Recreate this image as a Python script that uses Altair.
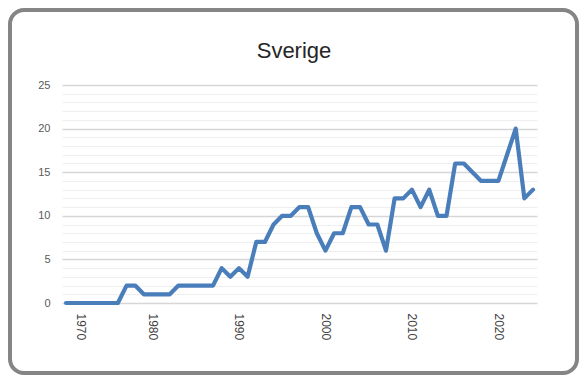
import altair as alt
import pandas as pd

years = list(range(1970, 2025))
values = [0, 0, 0, 0, 0, 0, 0, 2, 2, 1, 1, 1, 1, 2, 2, 2, 2, 2, 4, 3, 4, 3,
          7, 7, 9, 10, 10, 11, 11, 8, 6, 8, 8, 11, 11, 9, 9, 6, 12, 12, 13, 11,
          13, 10, 10, 16, 16, 15, 14, 14, 14, 17, 20, 12, 13]
x_tick_years = [1970, 1980, 1990, 2000, 2010, 2020]
y_grid_values = list(range(0, 26))
title_text = "Sverige"

df = pd.DataFrame({"year": years, "value": values})

W, H = 475, 218
FONT = "Liberation Sans"

major = "datum.value % 5 == 0"

line = alt.Chart(df).mark_line(
    color="#4A7EBB", strokeWidth=4.2, strokeJoin="round", strokeCap="round"
).encode(
    x=alt.X(
        "year:Q",
        scale=alt.Scale(domain=[1970, 2024], padding=4, nice=False, zero=False),
        axis=alt.Axis(
            values=x_tick_years, format="d", labelAngle=90, grid=False,
            domain=False, ticks=False, labelPadding=10, labelFont=FONT,
            labelFontSize=12, labelColor="#404040", labelOverlap=False,
            labelOffset={"condition": {"test": "datum.value == 1970", "value": 14}, "value": 0},
            title=None,
        ),
    ),
    y=alt.Y(
        "value:Q",
        scale=alt.Scale(domain=[0, 25], nice=False),
        axis=alt.Axis(
            values=y_grid_values,
            labelExpr="datum.value % 5 == 0 ? datum.label : ''",
            labelOverlap=False, domain=False, ticks=False, labelPadding=12,
            labelFont=FONT, labelFontSize=11, labelColor="#595959",
            gridColor={"condition": {"test": major, "value": "#d6d6d6"}, "value": "#eeeeee"},
            gridWidth={"condition": {"test": major, "value": 1.5}, "value": 1},
            title=None,
        ),
    ),
)

one_row = alt.Data(values=[{"t": title_text}])

border = alt.Chart(one_row).mark_rect(
    fillOpacity=0, stroke="#858585", strokeWidth=4, cornerRadius=14
).encode(
    x=alt.value(-52), x2=alt.value(515), y=alt.value(-75), y2=alt.value(288)
)

title = alt.Chart(one_row).mark_text(
    font=FONT, fontSize=22, color="#262626", align="center", baseline="alphabetic"
).encode(
    text="t:N", x=alt.value(232), y=alt.value(-27)
)

chart = alt.layer(line, border, title).properties(
    width=W,
    height=H,
    autosize=alt.AutoSizeParams(type="none"),
    padding={"left": 54, "top": 77, "right": 42, "bottom": 72},
    background="white",
).configure_view(strokeWidth=0)

chart.save("out.html", embed_options={"renderer": "svg", "actions": False})
